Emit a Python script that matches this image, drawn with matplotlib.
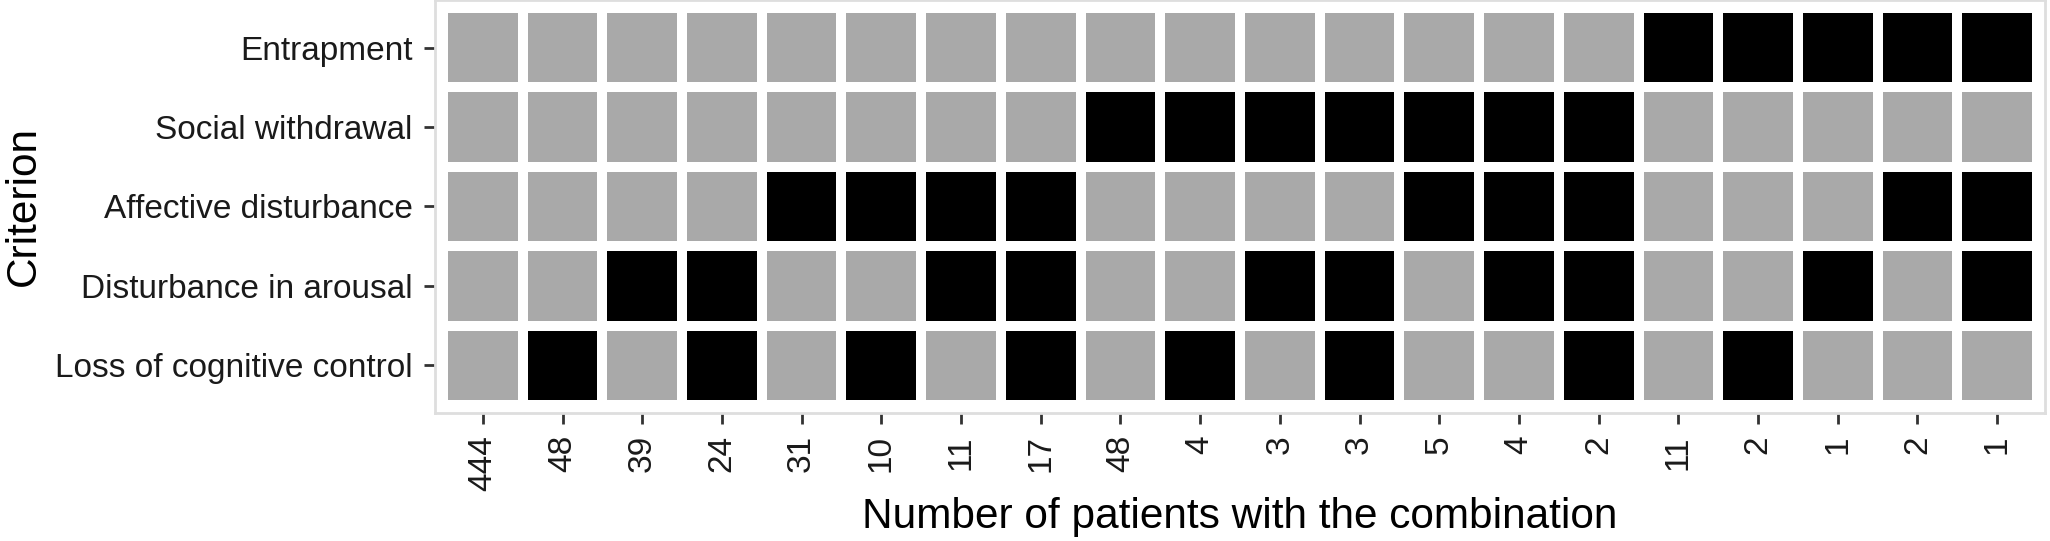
import numpy as np
import matplotlib.pyplot as plt
from matplotlib.colors import ListedColormap

plt.rcParams['font.family'] = ['Liberation Sans', 'DejaVu Sans']

# Criteria, top row first
criteria = ["Entrapment", "Social withdrawal", "Affective disturbance",
            "Disturbance in arousal", "Loss of cognitive control"]

# Number of patients for each combination (columns, left to right)
counts = ["444", "48", "39", "24", "31", "10", "11", "17", "48", "4",
          "3", "3", "5", "4", "2", "11", "2", "1", "2", "1"]

# 1 = criterion present (black), 0 = absent (gray)
entrapment = [0, 0, 0, 0, 0, 0, 0, 0, 0, 0, 0, 0, 0, 0, 0, 1, 1, 1, 1, 1]
social     = [0, 0, 0, 0, 0, 0, 0, 0, 1, 1, 1, 1, 1, 1, 1, 0, 0, 0, 0, 0]
affective  = [0, 0, 0, 0, 1, 1, 1, 1, 0, 0, 0, 0, 1, 1, 1, 0, 0, 0, 1, 1]
arousal    = [0, 0, 1, 1, 0, 0, 1, 1, 0, 0, 1, 1, 0, 1, 1, 0, 0, 1, 0, 1]
cognitive  = [0, 1, 0, 1, 0, 1, 0, 1, 0, 1, 0, 1, 0, 0, 1, 0, 1, 0, 0, 0]

# rows bottom to top for the y axis
grid = np.array([cognitive, arousal, affective, social, entrapment])

fig = plt.figure(figsize=(20.5, 5.41), dpi=100)
ax = fig.add_axes([435 / 2050, 1 - 413 / 541, 1610 / 2050, 413 / 541])

n_col = len(counts)
n_row = len(criteria)
xe = np.arange(n_col + 1) + 0.5
ye = np.arange(n_row + 1) + 0.5
ax.pcolormesh(xe, ye, grid, cmap=ListedColormap(['#a9a9a9', 'black']),
              vmin=0, vmax=1, edgecolors='white', linewidth=5.8)

ax.set_xlim(0.4, n_col + 0.6)
ax.set_ylim(0.4, n_row + 0.6)

ax.set_xticks(np.arange(1, n_col + 1))
ax.set_xticklabels(counts, rotation=90)
ax.set_yticks(np.arange(1, n_row + 1))
ax.set_yticklabels(criteria[::-1])
ax.tick_params(axis='both', labelsize=24, length=8, width=2, color='#333333',
               labelcolor='#1a1a1a', pad=8)

for s in ax.spines.values():
    s.set_color('#dedede')
    s.set_linewidth(2)

ax.set_xlabel('Number of patients with the combination', fontsize=30.5, labelpad=4)
ax.set_ylabel('Criterion', fontsize=30.5, labelpad=8)

fig.savefig('out.png', dpi=100)
